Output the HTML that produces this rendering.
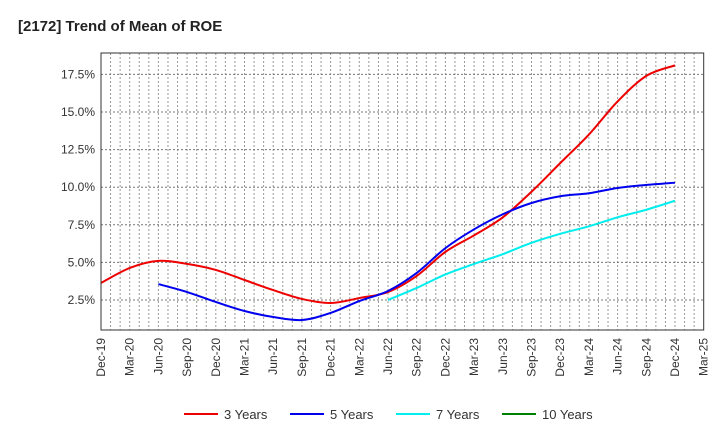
<!DOCTYPE html>
<html><head><meta charset="utf-8"><style>
body{margin:0;background:#fff;font-family:"Liberation Sans",sans-serif}
</style></head><body>
<svg id="chart" width="720" height="440" xmlns="http://www.w3.org/2000/svg" font-family="Liberation Sans, sans-serif">
<text x="18" y="31" font-size="15" font-weight="bold" fill="#222">[2172]  Trend of Mean of ROE</text>
<g id="grid"></g><g id="series"></g><g id="axes"></g><g id="legend"></g>
</svg>
<script>
const xLabels=["Dec-19","Mar-20","Jun-20","Sep-20","Dec-20","Mar-21","Jun-21","Sep-21","Dec-21","Mar-22","Jun-22","Sep-22","Dec-22","Mar-23","Jun-23","Sep-23","Dec-23","Mar-24","Jun-24","Sep-24","Dec-24","Mar-25"];
const yTicks=[2.5,5,7.5,10,12.5,15,17.5];
const s3=[3.63,4.63,5.1,4.9,4.5,3.83,3.16,2.57,2.3,2.63,3.03,4.1,5.7,6.8,8.0,9.7,11.6,13.5,15.7,17.4,18.1];
const s5=[null,null,3.56,3.03,2.37,1.77,1.37,1.17,1.64,2.43,3.1,4.3,5.95,7.2,8.2,8.95,9.4,9.6,9.95,10.15,10.3];
const s7=[null,null,null,null,null,null,null,null,null,null,2.5,3.3,4.2,4.9,5.55,6.3,6.9,7.4,8.0,8.5,9.1];
const s10=[];
const NS="http://www.w3.org/2000/svg";
const L=101,R=703.7,T=53,B=330;
const X=i=>L+i*(R-L)/21;
const Y=v=>300-(v-2.5)*15.04;
function mk(tag,attrs,parent){const e=document.createElementNS(NS,tag);for(const k in attrs)e.setAttribute(k,attrs[k]);parent.appendChild(e);return e;}
const grid=document.getElementById('grid'),axes=document.getElementById('axes'),ser=document.getElementById('series'),leg=document.getElementById('legend');
for(let m=1;m<63;m++){const x=L+m*(R-L)/63;
const g=mk('line',{x1:x,x2:x,y1:T,y2:B,stroke:'#999','stroke-dasharray':'2,2','stroke-width':1},grid);

}
yTicks.forEach(v=>{const y=Y(v);
const g=mk('line',{x1:L,x2:R,y1:y,y2:y,stroke:'#777','stroke-dasharray':'2,2','stroke-width':1},grid);


const t=mk('text',{x:L-6,y:y+4,'text-anchor':'end','font-size':12,fill:'#333'},axes);t.textContent=v.toFixed(1)+'%';

});
const fr=mk('rect',{x:L,y:T,width:R-L,height:B-T,fill:'none',stroke:'#333','stroke-width':1},axes);


xLabels.forEach((lab,i)=>{const x=X(i);
const t=mk('text',{transform:`translate(${x+4},${B+8}) rotate(-90)`,'text-anchor':'end','font-size':12,fill:'#333'},axes);t.textContent=lab;

});
function path(arr){const p=[];arr.forEach((v,i)=>{if(v!=null)p.push([X(i),Y(v)]);});if(!p.length)return '';
let d=`M${p[0][0]},${p[0][1]}`;
for(let i=0;i<p.length-1;i++){const p0=p[i-1]||p[i],p1=p[i],p2=p[i+1],p3=p[i+2]||p2;
d+=` C${p1[0]+(p2[0]-p0[0])/6},${p1[1]+(p2[1]-p0[1])/6} ${p2[0]-(p3[0]-p1[0])/6},${p2[1]-(p3[1]-p1[1])/6} ${p2[0]},${p2[1]}`;}
return d;}
const series=[[s3,'#ee0000','3 Years'],[s5,'#0000ee','5 Years'],[s7,'#00eeee','7 Years'],[s10,'#008000','10 Years']];
series.forEach(([a,c,n],k)=>{
if(a.length){const p=mk('path',{d:path(a),fill:'none',stroke:c,'stroke-width':2},ser);

}
const lx=[184,290,396,502][k];
const ll=mk('line',{x1:lx,x2:lx+34,y1:414,y2:414,stroke:c,'stroke-width':2},leg);


const t=mk('text',{x:lx+40,y:419,'font-size':13,fill:'#333'},leg);t.textContent=n;

});
</script>
</body></html>
